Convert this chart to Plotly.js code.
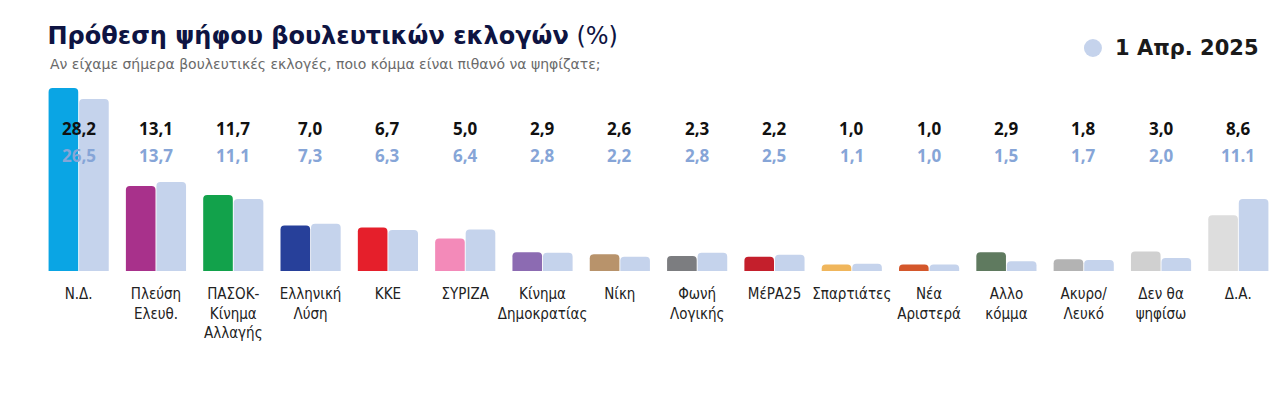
<!DOCTYPE html>
<html>
<head>
<meta charset="utf-8">
<script src="https://cdn.plot.ly/plotly-3.0.1.min.js"></script>
<style>html,body{margin:0;padding:0;background:#fff;}#chart{width:1285px;height:396px;}</style>
</head>
<body>
<div id="chart"></div>
<script>
const categories = ["Ν.Δ.", "Πλεύση<br>Ελευθ.", "ΠΑΣΟΚ-<br>Κίνημα<br>Αλλαγής", "Ελληνική<br>Λύση", "ΚΚΕ", "ΣΥΡΙΖΑ", "Κίνημα<br>Δημοκρατίας", "Νίκη", "Φωνή<br>Λογικής", "ΜέΡΑ25", "Σπαρτιάτες", "Νέα<br>Αριστερά", "Αλλο<br>κόμμα", "Ακυρο/<br>Λευκό", "Δεν θα<br>ψηφίσω", "Δ.Α."];
const currentValues = [28.2, 13.1, 11.7, 7.0, 6.7, 5.0, 2.9, 2.6, 2.3, 2.2, 1.0, 1.0, 2.9, 1.8, 3.0, 8.6];
const previousValues = [26.5, 13.7, 11.1, 7.3, 6.3, 6.4, 2.8, 2.2, 2.8, 2.5, 1.1, 1.0, 1.5, 1.7, 2.0, 11.1];
const currentLabels = ["28,2", "13,1", "11,7", "7,0", "6,7", "5,0", "2,9", "2,6", "2,3", "2,2", "1,0", "1,0", "2,9", "1,8", "3,0", "8,6"];
const previousLabels = ["26,5", "13,7", "11,1", "7,3", "6,3", "6,4", "2,8", "2,2", "2,8", "2,5", "1,1", "1,0", "1,5", "1,7", "2,0", "11.1"];
const partyColors = ["#0aa5e4", "#a8318b", "#12a24b", "#27409a", "#e51f2b", "#f38ab9", "#8c6bb2", "#b8936b", "#7c7d80", "#c41f2c", "#f0b65c", "#d4572b", "#5f7a5f", "#b3b3b3", "#d0d0d0", "#dddddd"];
const previousColor = "#c5d3ec";
const seriesName = "1 Απρ. 2025";

const traces = [
  {type: "bar", x: categories, y: currentValues, marker: {color: partyColors, cornerradius: 4}, showlegend: false, hoverinfo: "skip"},
  {type: "bar", x: categories, y: previousValues, marker: {color: previousColor, cornerradius: 4}, name: seriesName, showlegend: false, hoverinfo: "skip"}
];

const annotations = [];
categories.forEach((c, i) => {
  annotations.push({x: c, xref: "x", y: 0.733, yref: "paper", text: currentLabels[i], showarrow: false, yanchor: "middle",
    font: {family: "Open Sans", size: 17, color: "#111111", weight: 700}});
  annotations.push({x: c, xref: "x", y: 0.59, yref: "paper", text: previousLabels[i], showarrow: false, yanchor: "middle",
    font: {family: "Open Sans", size: 17, color: "#86a5d7", weight: 700}});
});
annotations.push({xref: "paper", yref: "paper", x: 0.8674, xanchor: "left", y: 1.1436, yanchor: "middle",
  text: '<b>' + seriesName + '</b>', showarrow: false,
  font: {family: "DejaVu Sans", size: 21, color: "#1a1a1a"}});
annotations.push({xref: "paper", yref: "paper", x: 0.0065, xanchor: "left", y: 1.062, yanchor: "middle",
  text: "Αν είχαμε σήμερα βουλευτικές εκλογές, ποιο κόμμα είναι πιθανό να ψηφίζατε;", showarrow: false,
  font: {family: "DejaVu Sans", size: 14, color: "#6a6a6a"}});

const layout = {
  width: 1285, height: 396,
  margin: {l: 40, r: 8, t: 76, b: 125},
  paper_bgcolor: "#ffffff", plot_bgcolor: "#ffffff",
  title: {text: "<b>Πρόθεση ψήφου βουλευτικών εκλογών</b> (%)", xref: "container", yref: "container", x: 0.037, xanchor: "left", y: 0.91, yanchor: "middle",
    font: {family: "DejaVu Sans", size: 24, color: "#0e1442"}},
  barmode: "group", bargap: 0.21, bargroupgap: 0.03,
  xaxis: {type: "category", showgrid: false, zeroline: false, showline: false, ticks: "", ticklabelstandoff: 12,
    tickfont: {family: "Liberation Sans Narrow, DejaVu Sans Condensed, sans-serif", size: 15, color: "#222222"}},
  yaxis: {range: [0, 30.05], visible: false, showgrid: false, zeroline: false, fixedrange: true},
  shapes: [{type: "circle", xref: "paper", yref: "paper", xsizemode: "pixel", ysizemode: "pixel",
    xanchor: 0.8512, yanchor: 1.1436, x0: -9, x1: 9, y0: -9, y1: 9, fillcolor: previousColor, line: {width: 0}}],
  annotations: annotations,
  showlegend: false
};

Plotly.newPlot("chart", traces, layout, {displayModeBar: false, staticPlot: true});
</script>
</body>
</html>
